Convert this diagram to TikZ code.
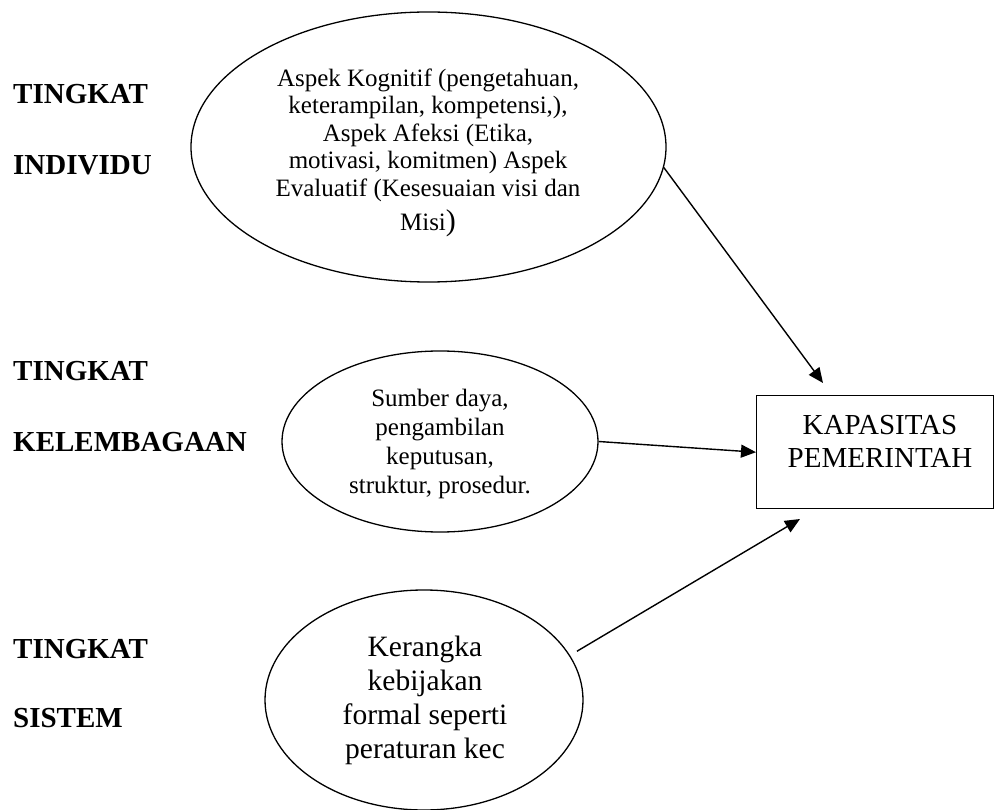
\documentclass[tikz,border=0pt]{standalone}
\usepackage{fontspec}
\setmainfont{Liberation Serif}
\usetikzlibrary{shapes.geometric,arrows.meta}
\tikzset{
  ell/.style={draw, ellipse, line width=1.3pt, inner sep=0pt},
  lbl/.style={font=\fontsize{29}{33}\selectfont\bfseries, anchor=base west, inner sep=0pt},
  txt/.style={align=center, inner sep=0pt},
  arr/.style={line width=1.4pt, -{Triangle[length=15pt,width=13pt]}}
}
\begin{document}
\begin{tikzpicture}[x=1pt,y=-1pt]
\useasboundingbox (0,0) rectangle (994,810);
% left labels
\node[lbl] (l1a) at (13,104) {TINGKAT};
\node[lbl] (l1b) at (13,175) {INDIVIDU};
\node[lbl] (l2a) at (13,381) {TINGKAT};
\node[lbl] (l2b) at (13,451) {KELEMBAGAAN};
\node[lbl] (l3a) at (13,658) {TINGKAT};
\node[lbl] (l3b) at (13,727) {SISTEM};
% ellipses
\node[ell, minimum width=475pt, minimum height=270pt] (e1) at (428.5,147) {};
\node[ell, minimum width=316pt, minimum height=181pt] (e2) at (440,441.5) {};
\node[ell, minimum width=318pt, minimum height=220pt] (e3) at (424,700) {};
% ellipse texts
\node[txt, font=\fontsize{25}{27.5}\selectfont] (t1) at (428,153)
  {Aspek Kognitif (pengetahuan,\\ keterampilan, kompetensi,),\\ Aspek Afeksi (Etika,\\ motivasi, komitmen) Aspek\\ Evaluatif (Kesesuaian visi dan\\[7pt] Misi{\fontsize{30}{30}\selectfont )}};
\node[txt, font=\fontsize{25}{28.7}\selectfont] (t2) at (440,444)
  {Sumber daya,\\ pengambilan\\ keputusan,\\ struktur, prosedur.};
\node[txt, font=\fontsize{29.5}{34}\selectfont] (t3) at (425,700)
  {Kerangka\\ kebijakan\\ formal seperti\\ peraturan kec};
% box
\node[draw, line width=1.4pt, minimum width=237pt, minimum height=113pt, inner sep=0pt, anchor=north west] (box) at (756,395) {};
\node[txt, font=\fontsize{29}{33}\selectfont] (bt) at (880,441) {KAPASITAS\\ PEMERINTAH};
% free arrow ends
\coordinate (tip1) at (823,383);
\coordinate (tip3) at (800,519);
% arrows
\draw[arr] (e1.-5.9) -- (tip1);
\draw[arr] (e2.east) -- (box.west);
\draw[arr, shorten <=8pt] (e3.17) -- (tip3);
\end{tikzpicture}
\end{document}
